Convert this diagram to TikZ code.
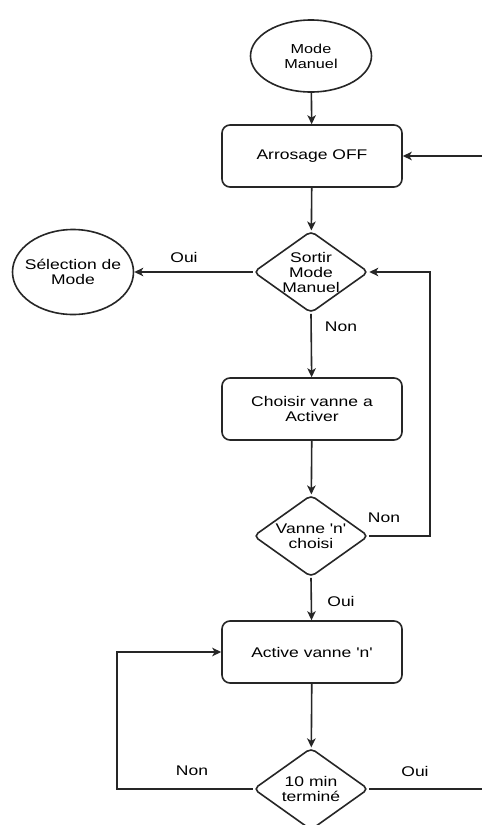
\documentclass[tikz,border=0pt]{standalone}
\usepackage{fontspec}
\setmainfont{Liberation Sans}[FakeStretch=1.25, Ligatures=TeXOff]
\usetikzlibrary{shapes.geometric,arrows.meta}

\tikzset{
  line/.style={draw=black!85, line width=1.6pt},
  flow/.style={line, -{Stealth[length=9pt,width=8.5pt,inset=2.5pt]}},
  txt/.style={font=\fontsize{14}{15}\selectfont, align=center, text=black},
  smalltxt/.style={font=\fontsize{13}{15}\selectfont, align=center, text=black},
  stepbox/.style={line, rectangle, rounded corners=8pt, minimum width=180pt,
    minimum height=62pt, inner sep=0pt, txt},
  decision/.style={line, diamond, rounded corners=5pt, minimum width=115pt,
    minimum height=82pt, inner sep=0pt, shape aspect=1.4},
  terminal/.style={line, ellipse, minimum width=121pt, inner sep=0pt},
  lbl/.style={txt, inner sep=0pt},
}

\begin{document}
\begin{tikzpicture}[x=1pt, y=-1pt]
  \useasboundingbox (0,0) rectangle (482,825);
  \fill[white] (0,0) rectangle (482,825);
  \clip (0,0) rectangle (482,825);

  % terminals
  \node[terminal, minimum height=72pt,
        label={[smalltxt]center:Mode\\Manuel}] (mm) at (311,56) {};
  \node[terminal, minimum height=85pt,
        label={[txt]center:Sélection de\\Mode}] (sel) at (73,272) {};

  % process steps
  \node[stepbox] (off) at (312,156) {Arrosage OFF};
  \node[stepbox] (pick) at (312,409) {Choisir vanne a\\Activer};
  \node[stepbox] (act) at (312,652) {Active vanne 'n'};

  % decisions
  \node[decision, label={[txt]center:Sortir\\Mode\\Manuel}] (quit) at (311,272) {};
  \node[decision, label={[txt]center:Vanne 'n'\\choisi}] (chosen) at (311,536) {};
  \node[decision, label={[txt]center:10 min\\terminé}] (done) at (311,789) {};

  % loose ends and bends
  \coordinate (inR) at (482,156);
  \coordinate (loopR) at (430,536);
  \coordinate (loopL) at (117,789);
  \coordinate (outR) at (482,789);

  % connectors
  \draw[flow] (mm) -- (off);
  \draw[flow] (inR) -- (off.east);
  \draw[flow] (off) -- (quit);
  \draw[flow] (quit.west) -- (sel.east);
  \draw[flow] (quit.south) -- (pick);
  \draw[flow] (pick) -- (chosen);
  \draw[flow] (chosen.east) -- (loopR) |- (quit.east);
  \draw[flow] (chosen.south) -- (act);
  \draw[flow] (act) -- (done);
  \draw[flow] (done.west) -- (loopL) |- (act.west);
  \draw[line] (done.east) -- (outR);

  % branch labels
  \node[lbl] (ouiA) at (184,257) {Oui};
  \node[lbl] (nonA) at (341,327) {Non};
  \node[lbl] (nonB) at (384,518) {Non};
  \node[lbl] (ouiB) at (341,601) {Oui};
  \node[lbl] (nonC) at (192,771) {Non};
  \node[lbl] (ouiC) at (415,771) {Oui};
\end{tikzpicture}
\end{document}
